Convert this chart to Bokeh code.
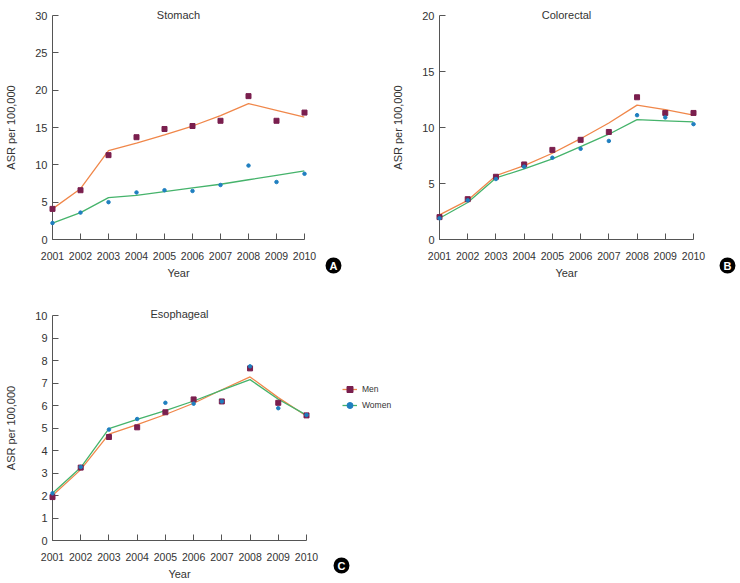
from bokeh.plotting import figure
from bokeh.models import Range1d, Label, Legend, LegendItem, FixedTicker, Title
from bokeh.layouts import column, row
from bokeh.embed import file_html
from bokeh.resources import INLINE

years = [2001, 2002, 2003, 2004, 2005, 2006, 2007, 2008, 2009, 2010]

stomach_men_obs = [4.1, 6.6, 11.3, 13.7, 14.8, 15.2, 15.9, 19.2, 15.9, 17.0]
stomach_men_fit = [4.1, 6.8, 11.9, 12.9, 14.0, 15.2, 16.6, 18.2, 17.3, 16.4]
stomach_women_obs = [2.2, 3.6, 5.0, 6.3, 6.6, 6.5, 7.3, 9.9, 7.7, 8.8]
stomach_women_fit = [2.2, 3.6, 5.6, 5.9, 6.4, 6.9, 7.4, 8.0, 8.6, 9.2]

colorectal_men_obs = [2.0, 3.6, 5.6, 6.7, 8.0, 8.9, 9.6, 12.7, 11.3, 11.3]
colorectal_men_fit = [2.2, 3.5, 5.7, 6.6, 7.7, 9.0, 10.4, 12.0, 11.6, 11.1]
colorectal_women_obs = [1.9, 3.5, 5.4, 6.5, 7.3, 8.1, 8.8, 11.1, 10.9, 10.3]
colorectal_women_fit = [1.9, 3.3, 5.5, 6.3, 7.2, 8.3, 9.4, 10.7, 10.6, 10.5]

esoph_men_obs = [1.93, 3.24, 4.6, 5.03, 5.7, 6.27, 6.18, 7.65, 6.12, 5.56]
esoph_men_fit = [2.0, 3.15, 4.73, 5.15, 5.6, 6.1, 6.7, 7.27, 6.35, 5.53]
esoph_women_obs = [2.1, 3.27, 4.93, 5.4, 6.12, 6.08, 6.18, 7.74, 5.88, 5.58]
esoph_women_fit = [2.1, 3.24, 4.97, 5.38, 5.77, 6.2, 6.68, 7.15, 6.28, 5.57]

stomach_yticks = [0, 5, 10, 15, 20, 25, 30]
colorectal_yticks = [0, 5, 10, 15, 20]
esoph_yticks = [0, 1, 2, 3, 4, 5, 6, 7, 8, 9, 10]

series_labels = ["Men", "Women"]

FONT = "Liberation Sans"
TXT = "#333333"
AX = "#555555"
MEN_PT = "#7a1f4e"
MEN_LN = "#f0874a"
WOM_PT = "#1f7fc0"
WOM_LN = "#45b36b"
NAN = float("nan")


def letter_label(letter, x, y):
    return Label(x=x, y=y, x_units="screen", y_units="screen",
                 text=letter, text_align="center", text_baseline="middle",
                 text_font=FONT, text_font_size="11px",
                 text_font_style="bold", text_color="white",
                 background_fill_color="black", border_radius=8,
                 padding=(4, 2))


def make_panel(title, men_obs, men_fit, wom_obs, wom_fit, yticks,
               width, height, mbl, mbr, mbt, mbb, title_standoff=-8):
    p = figure(width=width, height=height,
               x_range=Range1d(years[0], years[-1]),
               y_range=Range1d(yticks[0], yticks[-1]),
               output_backend="svg", toolbar_location=None,
               min_border_left=mbl, min_border_right=mbr,
               min_border_top=mbt, min_border_bottom=mbb)
    p.outline_line_color = None
    p.xgrid.visible = False
    p.ygrid.visible = False
    p.title = Title(text=title, align="center", text_font=FONT,
                    text_font_size="11px", text_font_style="normal",
                    text_color=TXT, standoff=title_standoff, offset=0)
    for ax in (p.xaxis[0], p.yaxis[0]):
        ax.axis_line_color = AX
        ax.major_tick_line_color = AX
        ax.major_tick_in = 6
        ax.major_tick_out = 0
        ax.minor_tick_line_color = None
        ax.major_label_text_font = FONT
        ax.major_label_text_color = TXT
        ax.major_label_text_font_size = "11px"
        ax.axis_label_text_font = FONT
        ax.axis_label_text_font_style = "normal"
        ax.axis_label_text_color = TXT
        ax.axis_label_text_font_size = "11px"
    p.xaxis.ticker = FixedTicker(ticks=years)
    p.xaxis.major_label_text_font_size = "10.5px"
    p.xaxis.major_label_standoff = 12
    p.xaxis.axis_label = "Year"
    p.xaxis.axis_label_standoff = 4
    p.yaxis.ticker = FixedTicker(ticks=yticks)
    p.yaxis.major_label_standoff = 5
    p.yaxis.axis_label = "ASR per 100,000"
    p.yaxis.axis_label_standoff = 15

    p.line(years, men_fit, line_color=MEN_LN, line_width=1.3)
    p.line(years, wom_fit, line_color=WOM_LN, line_width=1.3)
    p.scatter(years, men_obs, marker="square", size=5,
              fill_color=MEN_PT, line_color=MEN_PT, level="overlay")
    p.scatter(years, wom_obs, marker="circle", size=3.5,
              fill_color=WOM_PT, line_color=WOM_PT, level="overlay")
    return p


p1 = make_panel("Stomach", stomach_men_obs, stomach_men_fit,
                stomach_women_obs, stomach_women_fit, stomach_yticks,
                370, 290, 52, 66, 15, 51, title_standoff=-10)
p1.add_layout(letter_label("A", 29, -26), "right")

p2 = make_panel("Colorectal", colorectal_men_obs, colorectal_men_fit,
                colorectal_women_obs, colorectal_women_fit, colorectal_yticks,
                370, 290, 69, 47, 15, 51, title_standoff=-10)
p2.add_layout(letter_label("B", 34, -26), "right")

p3 = make_panel("Esophageal", esoph_men_obs, esoph_men_fit,
                esoph_women_obs, esoph_women_fit, esoph_yticks,
                325, 292, 52, 19, 25, 41)

# side figure holding the legend and panel letter C
p4 = figure(width=100, height=292, x_range=Range1d(0, 1), y_range=Range1d(0, 1),
            x_axis_type=None, y_axis_type=None, output_backend="svg",
            toolbar_location=None, min_border=0)
p4.outline_line_color = None
p4.xgrid.visible = False
p4.ygrid.visible = False
lm = p4.line([NAN], [NAN], line_color=MEN_LN, line_width=1.3)
sm = p4.scatter([NAN], [NAN], marker="square", size=5, fill_color=MEN_PT, line_color=MEN_PT)
lw = p4.line([NAN], [NAN], line_color=WOM_LN, line_width=1.3)
sw = p4.scatter([NAN], [NAN], marker="circle", size=3.5, fill_color=WOM_PT, line_color=WOM_PT)
legend = Legend(items=[LegendItem(label=series_labels[0], renderers=[lm, sm]),
                       LegendItem(label=series_labels[1], renderers=[lw, sw])],
                location=(17, 127), orientation="vertical",
                border_line_color=None, background_fill_alpha=0,
                padding=0, margin=0, spacing=0,
                glyph_width=15, glyph_height=16, label_height=16,
                label_standoff=5, label_text_font=FONT,
                label_text_font_size="8.5px", label_text_color=TXT)
p4.add_layout(legend)
p4.add_layout(letter_label("C", 16, -9), "below")

layout = column(row(p1, p2), row(p3, p4))
open("out.html", "w").write(file_html(layout, INLINE))
